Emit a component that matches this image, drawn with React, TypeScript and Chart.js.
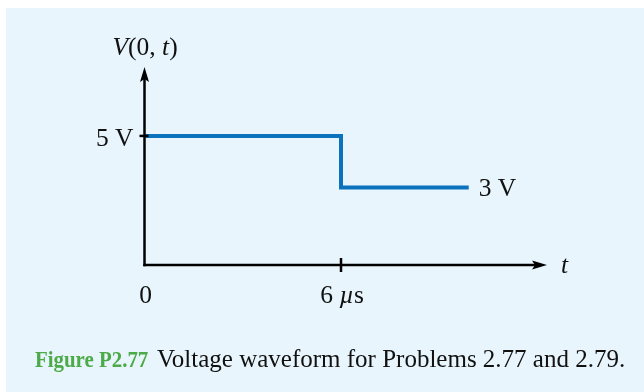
import React, { useEffect, useRef } from "react";
import { Chart, registerables } from "chart.js";

Chart.register(...registerables);

// Data
const times: number[] = [0, 6, 9.9];
const voltages: number[] = [5, 3, 3];
const xTickValues: number[] = [0, 6];
const xTickLabels: string[][] = [["0"], ["6 ", "µ", "s"]];
const yTickValue = 5;
const yTickLabel = "5 V";
const endLabel = "3 V";
const xAxisLabel = "t";
const xMax = 12.29;
const yMax = 7.67;

const FONT = '"Liberation Serif", "Times New Roman", serif';
const FS = 25.5;

function drawRuns(ctx: CanvasRenderingContext2D, runs: { t: string; it: boolean }[], x: number, y: number, align: "left" | "center" | "right") {
  const widths = runs.map((r) => {
    ctx.font = `${r.it ? "italic " : ""}${FS}px ${FONT}`;
    return ctx.measureText(r.t).width;
  });
  const total = widths.reduce((a, b) => a + b, 0);
  let cx = align === "left" ? x : align === "center" ? x - total / 2 : x - total;
  ctx.textAlign = "left";
  ctx.textBaseline = "alphabetic";
  runs.forEach((r, i) => {
    ctx.font = `${r.it ? "italic " : ""}${FS}px ${FONT}`;
    ctx.fillText(r.t, cx, y);
    cx += widths[i];
  });
}

const axesPlugin = {
  id: "axesPlugin",
  afterDatasetsDraw(chart: any) {
    const ctx: CanvasRenderingContext2D = chart.ctx;
    const xs = chart.scales.x;
    const ys = chart.scales.y;
    const x0 = xs.getPixelForValue(0);
    const y0 = ys.getPixelForValue(0);
    const xEnd = xs.getPixelForValue(xMax);
    const yEnd = ys.getPixelForValue(yMax);
    ctx.save();
    ctx.strokeStyle = "#000";
    ctx.fillStyle = "#000";
    ctx.lineWidth = 2.5;
    ctx.lineCap = "butt";
    // x axis
    ctx.beginPath();
    ctx.moveTo(x0 - 1.25, y0);
    ctx.lineTo(xEnd - 10, y0);
    ctx.stroke();
    ctx.beginPath();
    ctx.moveTo(xEnd, y0);
    ctx.lineTo(xEnd - 15, y0 - 4.5);
    ctx.lineTo(xEnd - 12, y0);
    ctx.lineTo(xEnd - 15, y0 + 4.5);
    ctx.closePath();
    ctx.fill();
    // y axis
    ctx.beginPath();
    ctx.moveTo(x0, y0 + 1.25);
    ctx.lineTo(x0, yEnd + 10);
    ctx.stroke();
    ctx.beginPath();
    ctx.moveTo(x0, yEnd);
    ctx.lineTo(x0 - 4.5, yEnd + 15);
    ctx.lineTo(x0, yEnd + 12);
    ctx.lineTo(x0 + 4.5, yEnd + 15);
    ctx.closePath();
    ctx.fill();
    // y tick
    const y5 = ys.getPixelForValue(yTickValue);
    ctx.beginPath();
    ctx.moveTo(x0 - 5, y5);
    ctx.lineTo(x0 + 4, y5);
    ctx.stroke();
    // x tick
    const x6 = xs.getPixelForValue(xTickValues[1]);
    ctx.beginPath();
    ctx.moveTo(x6, y0 - 7);
    ctx.lineTo(x6, y0 + 7);
    ctx.stroke();

    // labels
    ctx.fillStyle = "#111";
    drawRuns(ctx, [{ t: yTickLabel, it: false }], x0 - 11, y5 + 10, "right");
    xTickValues.forEach((v, i) => {
      const px = xs.getPixelForValue(v);
      const runs = xTickLabels[i].map((s) => ({ t: s, it: s === "µ" }));
      drawRuns(ctx, runs, px + 1, y0 + 38, "center");
    });
    const lastX = xs.getPixelForValue(times[times.length - 1]);
    const lastY = ys.getPixelForValue(voltages[voltages.length - 1]);
    drawRuns(ctx, [{ t: endLabel, it: false }], lastX + 10, lastY + 8, "left");
    drawRuns(ctx, [{ t: xAxisLabel, it: true }], xEnd + 14, y0 + 8, "left");
    drawRuns(
      ctx,
      [
        { t: "V", it: true },
        { t: "(0, ", it: false },
        { t: "t", it: true },
        { t: ")", it: false },
      ],
      x0 - 32,
      yEnd - 12,
      "left"
    );
    ctx.restore();
  },
};

function WaveChart() {
  const ref = useRef<HTMLCanvasElement | null>(null);
  useEffect(() => {
    if (!ref.current) return;
    const chart = new Chart(ref.current, {
      type: "line",
      data: {
        datasets: [
          {
            data: times.map((t, i) => ({ x: t, y: voltages[i] })),
            borderColor: "#0b72bd",
            borderWidth: 4,
            stepped: "before",
            pointRadius: 0,
            fill: false,
            borderCapStyle: "butt",
            borderJoinStyle: "miter",
          },
        ],
      },
      options: {
        responsive: false,
        animation: false,
        events: [],
        layout: { padding: { left: 144.5, right: 97, top: 67, bottom: 127 } },
        plugins: { legend: { display: false }, tooltip: { enabled: false }, title: { display: false } },
        scales: {
          x: { type: "linear", min: 0, max: xMax, display: false },
          y: { type: "linear", min: 0, max: yMax, display: false },
        },
      },
      plugins: [axesPlugin],
    } as any);
    return () => chart.destroy();
  }, []);
  return <canvas ref={ref} width={644} height={392} style={{ position: "absolute", left: 0, top: 0, width: 644, height: 392 }} />;
}

export default function App() {
  return (
    <div style={{ position: "fixed", left: 0, top: 0, width: 644, height: 392, background: "#ffffff", overflow: "hidden" }}>
      <div style={{ position: "absolute", left: 6, top: 8, right: 0, bottom: 0, background: "#e8f5fc" }} />
      <WaveChart />
      <div
        style={{
          position: "absolute",
          left: 35,
          top: 346,
          fontFamily: FONT,
          fontSize: 25,
          lineHeight: "25px",
          whiteSpace: "nowrap",
          color: "#111",
        }}
      >
        <span
          style={{
            color: "#4caa48",
            fontWeight: "bold",
            fontSize: 24,
            display: "inline-block",
            transform: "scaleX(0.87)",
            transformOrigin: "left center",
            width: 113,
          }}
        >
          Figure P2.77
        </span>
        <span style={{ display: "inline-block", width: 9 }} />
        <span>{"Voltage waveform for Problems 2.77 and 2.79."}</span>
      </div>
    </div>
  );
}
